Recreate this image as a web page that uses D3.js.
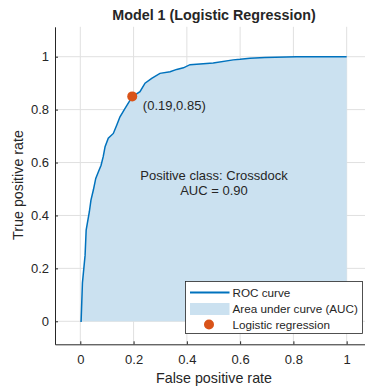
<!DOCTYPE html>
<html>
<head>
<meta charset="utf-8">
<title>Model 1 ROC</title>
<script src="https://cdn.jsdelivr.net/npm/d3@7"></script>
<style>
  body { margin: 0; background: #fff; }
  text { font-family: "Liberation Sans", Arial, Helvetica, sans-serif; fill: #262626; }
</style>
</head>
<body>
<div id="chart"></div>
<script>
// ROC points
var fpr = [0, 0.003, 0.008, 0.018, 0.022, 0.034, 0.040, 0.049, 0.058, 0.068, 0.078, 0.086, 0.093, 0.105,
           0.124, 0.137, 0.149, 0.168, 0.187, 0.200, 0.224, 0.243, 0.268, 0.299, 0.337, 0.362, 0.387,
           0.412, 0.499, 0.574, 0.600, 0.637, 0.693, 0.812, 1.0];
var tpr = [0, 0.0, 0.145, 0.250, 0.345, 0.414, 0.458, 0.496, 0.540, 0.565, 0.590, 0.622, 0.660, 0.692,
           0.710, 0.742, 0.773, 0.805, 0.836, 0.852, 0.868, 0.900, 0.918, 0.937, 0.943, 0.952, 0.958,
           0.970, 0.976, 0.988, 0.990, 0.994, 0.997, 1.0, 1.0];
var opPoint = [0.195, 0.85];
var opLabel = "(0.19,0.85)";
var ticks = [0, 0.2, 0.4, 0.6, 0.8, 1];
var legendLabels = ["ROC curve", "Area under curve (AUC)", "Logistic regression"];
var note = ["Positive class: Crossdock", "AUC = 0.90"];

var width = 365, height = 387;
var blue = "#0072bd", fillBlue = "#cbe1f0", orange = "#d95319", grid = "#e0e0e0", ink = "#262626";

var x = d3.scaleLinear().domain([-0.095, 1.1]).range([55, 373.3]);
var y = d3.scaleLinear().domain([-0.087, 1.113]).range([344.3, 26.8]);

var svg = d3.select("#chart").append("svg")
    .attr("width", width)
    .attr("height", height);

// grid
svg.append("g").selectAll("line").data(ticks).enter().append("line")
    .attr("x1", d => x(d)).attr("x2", d => x(d))
    .attr("y1", y.range()[1]).attr("y2", y.range()[0])
    .attr("stroke", grid);
svg.append("g").selectAll("line").data(ticks).enter().append("line")
    .attr("y1", d => y(d)).attr("y2", d => y(d))
    .attr("x1", x.range()[0]).attr("x2", x.range()[1])
    .attr("stroke", grid);

var pts = fpr.map((f, i) => [f, tpr[i]]);

svg.append("path")
    .datum(pts)
    .attr("fill", fillBlue)
    .attr("d", d3.area().x(d => x(d[0])).y0(y(0)).y1(d => y(d[1])));

svg.append("path")
    .datum(pts)
    .attr("fill", "none")
    .attr("stroke", blue)
    .attr("stroke-width", 1.5)
    .attr("d", d3.line().x(d => x(d[0])).y(d => y(d[1])));

// axes
var xAxis = svg.append("g")
    .attr("transform", "translate(0," + y.range()[0] + ")")
    .call(d3.axisBottom(x).tickValues(ticks).tickFormat(d3.format("~g")).tickSizeInner(-3).tickSizeOuter(0).tickPadding(10.5));
var yAxis = svg.append("g")
    .attr("transform", "translate(" + x.range()[0] + ",0)")
    .call(d3.axisLeft(y).tickValues(ticks).tickFormat(d3.format("~g")).tickSizeInner(-3).tickSizeOuter(0).tickPadding(6));
[xAxis, yAxis].forEach(function (g) {
  g.selectAll("path, line").attr("stroke", ink);
  g.selectAll("text").style("font-size", "13px").attr("fill", ink)
      .style("font-family", '"Liberation Sans", Arial, sans-serif');
});

// operating point
svg.append("circle")
    .attr("cx", x(opPoint[0])).attr("cy", y(opPoint[1]))
    .attr("r", 5).attr("fill", orange);
svg.append("text")
    .attr("x", x(opPoint[0]) + 10.6).attr("y", y(opPoint[1]) + 14)
    .style("font-size", "13px")
    .text(opLabel);

svg.append("g").selectAll("text").data(note).enter().append("text")
    .attr("x", 214).attr("y", (d, i) => 180.2 + i * 14.6)
    .attr("text-anchor", "middle")
    .style("font-size", "13px")
    .text(d => d);

// titles
svg.append("text")
    .attr("x", 214).attr("y", 20)
    .attr("text-anchor", "middle")
    .style("font-size", "14.3px").style("font-weight", "bold")
    .text("Model 1 (Logistic Regression)");
svg.append("text")
    .attr("x", 214).attr("y", 383)
    .attr("text-anchor", "middle")
    .style("font-size", "14.3px")
    .text("False positive rate");
svg.append("text")
    .attr("transform", "translate(23,185) rotate(-90)")
    .attr("text-anchor", "middle")
    .style("font-size", "14.3px")
    .text("True positive rate");

// legend
var lg = svg.append("g").attr("transform", "translate(185.5,281.5)");
lg.append("rect").attr("width", 177).attr("height", 52)
    .attr("fill", "#fff").attr("stroke", ink).attr("stroke-width", 0.8);
var rowY = [11, 27.5, 43];
lg.append("line").attr("x1", 4.5).attr("x2", 44).attr("y1", rowY[0]).attr("y2", rowY[0])
    .attr("stroke", blue).attr("stroke-width", 2);
lg.append("rect").attr("x", 4.5).attr("y", rowY[1] - 6).attr("width", 39.5).attr("height", 12)
    .attr("fill", fillBlue);
lg.append("circle").attr("cx", 23.5).attr("cy", rowY[2]).attr("r", 5).attr("fill", orange);
lg.selectAll("text.lab").data(legendLabels).enter().append("text")
    .attr("class", "lab")
    .attr("x", 47).attr("y", (d, i) => rowY[i] + 4.2)
    .style("font-size", "11.7px")
    .text(d => d);
</script>
</body>
</html>
